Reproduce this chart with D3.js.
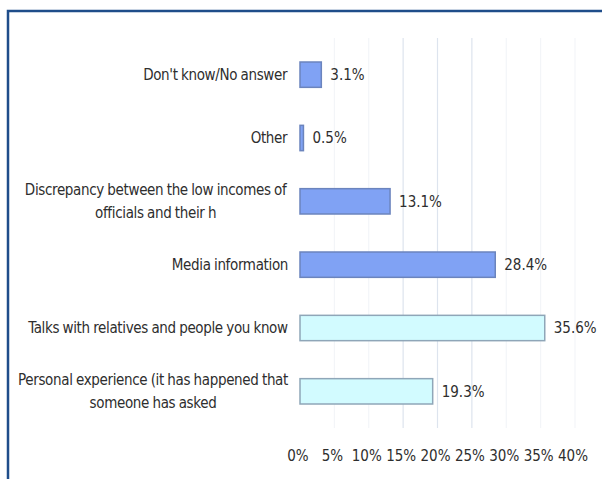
<!DOCTYPE html>
<html>
<head>
<meta charset="utf-8">
<script src="https://cdn.jsdelivr.net/npm/d3@7"></script>
<style>
  html, body { margin: 0; padding: 0; background: #fff; }
  svg { display: block; }
  text { font-family: "Liberation Sans Narrow", "DejaVu Sans Condensed", "Liberation Sans", sans-serif; fill: #2e2e2e; }
</style>
</head>
<body>
<svg id="chart" width="602" height="479"></svg>
<script>
// Sources of knowledge about corruption (share of respondents)
const categories = [
  ["Don't know/No answer"],
  ["Other"],
  ["Discrepancy between the low incomes of", "officials and their h"],
  ["Media information"],
  ["Talks with relatives and people you know"],
  ["Personal experience (it has happened that", "someone has asked"]
];
const values = [3.1, 0.5, 13.1, 28.4, 35.6, 19.3];
const groups = ["a", "a", "a", "a", "b", "b"];
const tickValues = [0, 5, 10, 15, 20, 25, 30, 35, 40];

const fills = { a: "#80a2f4", b: "#d2fbff" };
const strokes = { a: "#6b84bd", b: "#8fa6b8" };

const svg = d3.select("#chart");

// frame
svg.append("path")
  .attr("d", "M8,479 V11 H602")
  .attr("fill", "none")
  .attr("stroke", "#1f4d8a")
  .attr("stroke-width", 2.5);

const x = d3.scaleLinear().domain([0, 40]).range([300, 575]);
const y = d3.scaleBand()
  .domain(d3.range(values.length))
  .range([43, 423])
  .paddingInner(0.6)
  .paddingOuter(0.3);

// gridlines
svg.append("g")
  .selectAll("line")
  .data(tickValues.slice(1))
  .join("line")
  .attr("x1", d => x(d)).attr("x2", d => x(d))
  .attr("y1", 38).attr("y2", 428)
  .attr("stroke", d => (d >= 15 && d <= 25) ? "#dde4ee" : "#f3f5f8")
  .attr("stroke-width", 1.2);

// bars
svg.append("g")
  .selectAll("rect")
  .data(values)
  .join("rect")
  .attr("x", x(0))
  .attr("y", (d, i) => y(i))
  .attr("width", d => x(d) - x(0))
  .attr("height", y.bandwidth())
  .attr("fill", (d, i) => fills[groups[i]])
  .attr("stroke", (d, i) => strokes[groups[i]])
  .attr("stroke-width", 1.5);

// value labels
svg.append("g")
  .selectAll("text")
  .data(values)
  .join("text")
  .attr("x", d => x(d) + 9)
  .attr("y", (d, i) => y(i) + y.bandwidth() / 2)
  .attr("dy", "0.35em")
  .attr("font-size", 15)
  .text(d => d.toFixed(1) + "%");

// category labels
const cat = svg.append("g")
  .selectAll("text")
  .data(categories)
  .join("text")
  .attr("font-size", 15)
  .attr("letter-spacing", -0.35)
  .attr("word-spacing", -0.5)
  .attr("text-anchor", "middle")
  .attr("transform", (d, i) => `translate(0,${y(i) + y.bandwidth() / 2})`);

cat.each(function(lines) {
  const t = d3.select(this);
  const n = lines.length;
  lines.forEach((line, k) => {
    t.append("tspan")
      .attr("x", 0)
      .attr("y", (k - (n - 1) / 2) * 23)
      .attr("dy", "0.35em")
      .text(line);
  });
});

// right-align each label block to the axis, keeping wrapped lines centred
cat.each(function(lines, i) {
  const bb = this.getBBox();
  const cy = y(i) + y.bandwidth() / 2;
  const shift = 288 - (bb.x + bb.width);
  d3.select(this).attr("transform", `translate(${shift},${cy})`);
});

// x axis labels
svg.append("g")
  .selectAll("text")
  .data(tickValues)
  .join("text")
  .attr("x", d => x(d) - 2)
  .attr("y", 456)
  .attr("dy", "0.35em")
  .attr("text-anchor", "middle")
  .attr("font-size", 15)
  .text(d => d + "%");
</script>
</body>
</html>
